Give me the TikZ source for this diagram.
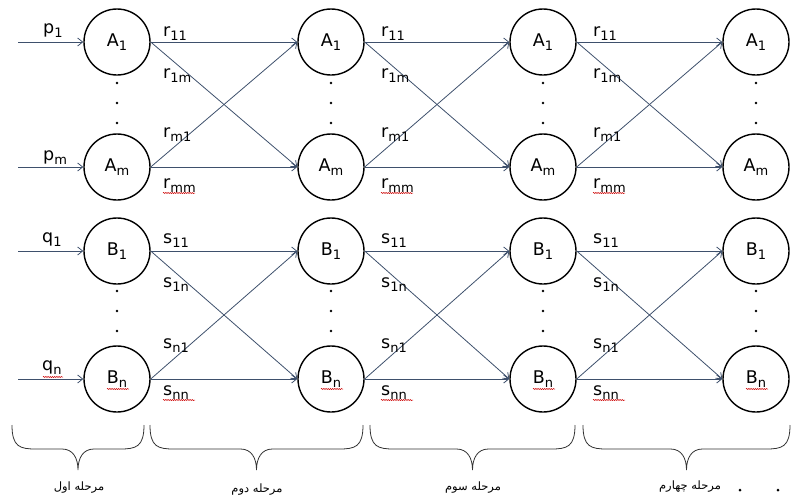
\documentclass[tikz,border=0pt]{standalone}
\usepackage{fontspec}
\setmainfont{DejaVu Sans}
\newfontfamily\arabicfont[Script=Arabic]{DejaVu Sans}
\TeXXeTstate=1
\usetikzlibrary{arrows.meta,decorations.pathmorphing}
\definecolor{linkcol}{RGB}{62,80,108}
\newcommand\lowidx[1]{\raisebox{-0.45ex}{\fontsize{13}{13}\selectfont #1}}
\tikzset{
  state/.style={circle,draw=black,line width=1.4pt,minimum size=66pt,inner sep=0pt,
                font=\fontsize{17.5}{17.5}\selectfont},
  link/.style={draw=linkcol,line width=0.8pt,-{Straight Barb[length=5pt,width=8pt]}},
  lbl/.style={anchor=base west,inner sep=0pt,font=\fontsize{17.5}{17.5}\selectfont},
  stage/.style={font=\arabicfont\fontsize{11.5}{11.5}\selectfont},
  brace/.style={draw=black!80,line width=0.8pt},
  spell/.style={draw=red!80!black,line width=0.5pt,
                decorate,decoration={snake,segment length=2.2pt,amplitude=0.6pt}},
  dot/.style={circle,fill=black,inner sep=0pt,minimum size=3pt}
}
\begin{document}
\begin{tikzpicture}[x=1pt,y=-1pt]
\useasboundingbox (0,0) rectangle (793,499);

% four stages of states
\foreach \i/\x in {1/117,2/331,3/543,4/756}{
  \node[state] (a\i)  at (\x,42)  {A\lowidx{1}};
  \node[state] (am\i) at (\x,167) {A\lowidx{m}};
  \node[state] (b\i)  at (\x,251) {B\lowidx{1}};
  \node[state] (bn\i) at (\x,379) {B\lowidx{n}};
  \foreach \y in {83,103,123,291,311,331}
    \node[dot,minimum size=2.6pt] (d\i-\y) at (\x,\y) {};
  \draw[spell] (\x-10,389) -- (\x+12,389);
}

% inputs of the first stage
\coordinate (pin1) at (18,42);
\coordinate (pinm) at (18,167);
\coordinate (qin1) at (18,251);
\coordinate (qinn) at (18,379);
\draw[link] (pin1) -- (a1.west);
\draw[link] (pinm) -- (am1.west);
\draw[link] (qin1) -- (b1.west);
\draw[link] (qinn) -- (bn1.west);
\node[lbl] (p1) at (43,33)  {p\lowidx{1}};
\node[lbl] (pm) at (43,160) {p\lowidx{m}};
\node[lbl] (q1) at (42,242) {q\lowidx{1}};
\node[lbl] (qn) at (42,370) {q\lowidx{n}};
\draw[spell] (43,377) -- (63,377);

% transitions between consecutive stages
\foreach \i/\j/\lx in {1/2/163,2/3/381,3/4/593}{
  \draw[link] (a\i.east)  -- (a\j.west);
  \draw[link] (a\i.east)  -- (am\j.west);
  \draw[link] (am\i.east) -- (a\j.west);
  \draw[link] (am\i.east) -- (am\j.west);
  \draw[link] (b\i.east)  -- (b\j.west);
  \draw[link] (b\i.east)  -- (bn\j.west);
  \draw[link] (bn\i.east) -- (b\j.west);
  \draw[link] (bn\i.east) -- (bn\j.west);
  \node[lbl] (r11\i) at (\lx,36)  {r\lowidx{11}};
  \node[lbl] (r1m\i) at (\lx,78)  {r\lowidx{1m}};
  \node[lbl] (rm1\i) at (\lx,137) {r\lowidx{m1}};
  \node[lbl] (rmm\i) at (\lx,188) {r\lowidx{mm}};
  \node[lbl] (s11\i) at (\lx,243) {s\lowidx{11}};
  \node[lbl] (s1n\i) at (\lx,287) {s\lowidx{1n}};
  \node[lbl] (sn1\i) at (\lx,348) {s\lowidx{n1}};
  \node[lbl] (snn\i) at (\lx,395) {s\lowidx{nn}};
  \draw[spell] (\lx,193) -- (\lx+32,193);
  \draw[spell] (\lx,400) -- (\lx+32,400);
}

% braces under the stages
\foreach \xa/\xb/\k in {12/144/1,150/363/2,370/575/3,583/790/4}{
  \pgfmathsetmacro\xm{(\xa+\xb)/2}
  \draw[brace] (\xa,425) .. controls (\xa,447) and (\xa+8,449) .. (\xa+24,449)
     -- (\xm-16,449) .. controls (\xm-5,449) and (\xm,458) .. (\xm,470)
     .. controls (\xm,458) and (\xm+5,449) .. (\xm+16,449)
     -- (\xb-24,449) .. controls (\xb-8,449) and (\xb,447) .. (\xb,425);
  \coordinate (tip\k) at (\xm,470);
}
\node[stage] (st1) at (79,488)  {\beginR مرحله اول\endR};
\node[stage] (st2) at (257,490) {\beginR مرحله دوم\endR};
\node[stage] (st3) at (473,488) {\beginR مرحله سوم\endR};
\node[stage] (st4) at (690,487) {\beginR مرحله چهارم\endR};
\node[dot] (e1) at (740,490) {};
\node[dot] (e2) at (778,490) {};
\end{tikzpicture}
\end{document}
